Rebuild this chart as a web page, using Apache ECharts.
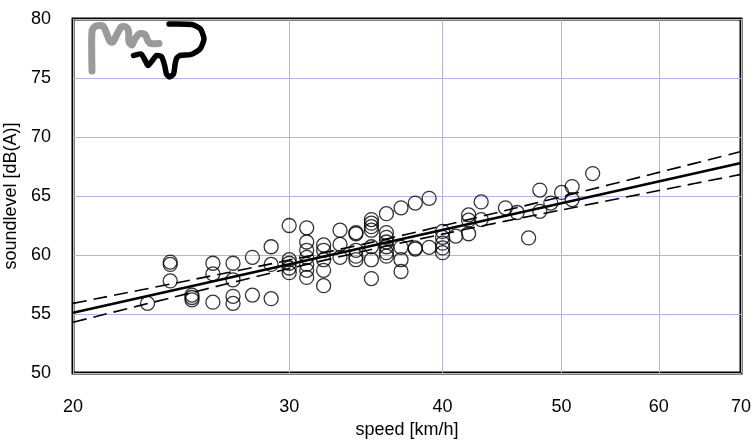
<!DOCTYPE html>
<html>
<head>
<meta charset="utf-8">
<script src="https://cdn.jsdelivr.net/npm/echarts@6/dist/echarts.min.js"></script>
<style>html,body{margin:0;padding:0;background:#fff;}#c{width:755px;height:441px;}</style>
</head>
<body>
<div id="c"></div>
<script>
// ---- data ----
const xTicks = [20, 30, 40, 50, 60, 70];
const measuredSpeed = [
  23,
  24, 24, 24,
  25, 25, 25,
  26, 26, 26,
  27, 27, 27, 27,
  28, 28,
  29, 29, 29,
  30, 30, 30, 30, 30,
  31, 31, 31, 31, 31, 31, 31,
  32, 32, 32, 32, 32,
  33, 33, 33,
  34, 34, 34, 34, 34,
  35, 35, 35, 35, 35, 35, 35,
  36, 36, 36, 36, 36, 36, 36,
  37, 37, 37, 37,
  38, 38, 38,
  39, 39,
  40, 40, 40, 40, 40,
  41,
  42, 42, 42,
  43, 43,
  45, 46, 47,
  48, 48,
  49, 50,
  51, 51,
  53
];
const measuredLevel = [
  55.9,
  59.4, 59.2, 57.8,
  56.6, 56.4, 56.2,
  59.3, 58.4, 56.0,
  59.3, 57.9, 56.5, 55.9,
  59.8, 56.6,
  60.7, 59.2, 56.3,
  62.5, 59.6, 59.3, 58.9, 58.5,
  62.3, 61.1, 60.4, 59.8, 59.2, 58.7, 58.1,
  60.85, 60.4, 59.6, 58.7, 57.4,
  62.1, 60.9, 59.8,
  61.9, 61.8, 60.4, 59.9, 59.6,
  63.0, 62.7, 62.4, 62.1, 60.7, 59.6, 58.0,
  63.5, 61.9, 61.5, 61.1, 60.7, 60.2, 59.9,
  64.0, 60.65, 59.6, 58.6,
  64.4, 60.6, 60.5,
  64.8, 60.65,
  62.0, 61.5, 61.0, 60.6, 60.2,
  61.6,
  63.4, 62.95, 61.8,
  64.5, 63.0,
  64.0, 63.6, 61.45,
  65.5, 63.7,
  64.4, 65.3,
  65.8, 64.7,
  66.9
];
const fitSpeed = [20, 70];
const fitLevel = [55.1, 67.8];
const bandSpeed = [20, 25, 30, 35, 40, 45, 50, 60, 70];
const bandUpper = [55.90, 57.90, 59.57, 61.07, 62.47, 63.77, 64.94, 67.00, 68.77];
const bandLower = [54.30, 56.82, 58.85, 60.47, 61.77, 62.87, 63.82, 65.46, 66.83];

const zip = (a, b) => a.map((v, i) => [v, b[i]]);
const gridColor = '#b4b4ea';
const font = 'Liberation Sans, Arial, sans-serif';

const chart = echarts.init(document.getElementById('c'), null, {renderer: 'canvas'});
chart.setOption({
  animation: false,
  backgroundColor: '#fff',
  grid: {left: 73, right: 14, top: 19, bottom: 68, show: true, borderColor: '#000', borderWidth: 3,
         backgroundColor: 'transparent', containLabel: false, outerBoundsMode: 'none'},
  xAxis: {
    type: 'log', logBase: 10, min: 20, max: 70,
    name: 'speed [km/h]', nameLocation: 'middle', nameGap: 47,
    nameTextStyle: {color: '#000', fontSize: 18, fontFamily: font},
    axisLine: {show: false},
    axisTick: {show: false, customValues: xTicks},
    axisLabel: {customValues: xTicks, color: '#000', fontSize: 18, fontFamily: font, margin: 25,
      formatter: v => String(Math.round(v))},
    splitLine: {show: true, lineStyle: {color: gridColor, width: 1}}
  },
  yAxis: {
    type: 'value', min: 50, max: 80, interval: 5,
    name: 'soundlevel [dB(A)]', nameLocation: 'middle', nameGap: 45,
    nameTextStyle: {color: '#000', fontSize: 18, fontFamily: font},
    axisLine: {show: false},
    axisTick: {show: false},
    axisLabel: {color: '#000', fontSize: 18, fontFamily: font, margin: 22},
    splitLine: {show: true, lineStyle: {color: gridColor, width: 1}}
  },
  series: [
    {
      type: 'scatter', data: zip(measuredSpeed, measuredLevel),
      symbol: 'circle', symbolSize: 14,
      itemStyle: {color: 'rgba(0,0,0,0)', borderColor: '#000', borderWidth: 1.3},
      z: 2
    },
    {
      type: 'line', data: zip(fitSpeed, fitLevel), showSymbol: false, symbol: 'none',
      lineStyle: {color: '#000', width: 2.5}, z: 3
    },
    {
      type: 'line', data: zip(bandSpeed, bandUpper), showSymbol: false, symbol: 'none', smooth: 0.3,
      lineStyle: {color: '#000', width: 1.6, type: [14, 7]}, z: 3
    },
    {
      type: 'line', data: zip(bandSpeed, bandLower), showSymbol: false, symbol: 'none', smooth: 0.3,
      lineStyle: {color: '#000', width: 1.6, type: [14, 7]}, z: 3
    }
  ],
  graphic: [
    {
      type: 'polyline', z: 10,
      shape: {points: [[92, 71], [92, 31], [95, 26.5], [103, 26], [110, 41.5], [113, 42], [121, 27], [126, 27], [128.5, 31], [129, 42], [132, 45], [135.5, 38], [140, 33.5], [145, 34.5], [148, 41], [151, 43.5], [159, 43.5]], smooth: 0.25},
      style: {stroke: '#9a9a9a', lineWidth: 7, fill: null, lineCap: 'round', lineJoin: 'round'}
    },
    {
      type: 'polyline', z: 10,
      shape: {points: [[133.5, 55.5], [141, 54], [145.5, 61], [148, 65.5], [152, 61], [156.5, 55.5], [161.5, 56.5], [164.5, 65], [166.5, 74], [169.5, 77], [173.5, 74], [175, 65], [176.5, 58.5], [180, 55.5], [191, 54.5], [200, 49], [204, 39], [200.5, 29], [192, 24.5], [169, 24]], smooth: 0.2},
      style: {stroke: '#000', lineWidth: 5.5, fill: null, lineCap: 'round', lineJoin: 'round'}
    }
  ]
});
</script>
</body>
</html>
